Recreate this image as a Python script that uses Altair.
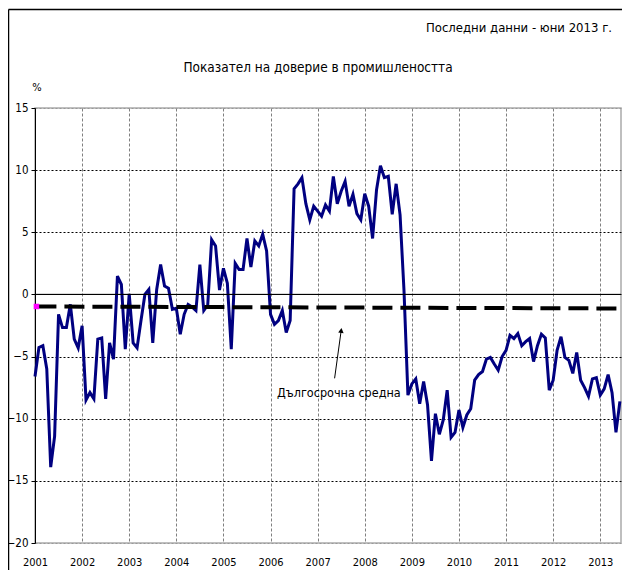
import altair as alt
import pandas as pd

# ---- data (monthly, Jan 2001 .. Jun 2013) ----
values = [
    -6.6, -4.27, -4.13, -6.0, -13.9, -11.4, -1.6, -2.67, -2.67, -0.8, -3.6, -4.3,      # 2001
    -2.53, -8.5, -7.9, -8.4, -3.6, -3.5, -8.4, -3.9, -5.2, 1.47, 0.8, -4.4,            # 2002
    0.05, -3.9, -4.3, -2.1, 0.0, 0.4, -3.9, 0.4, 2.4, 0.67, 0.5, -1.2,                 # 2003
    -1.1, -3.2, -1.6, -0.8, -1.0, -1.3, 2.4, -1.3, -0.85, 4.4, 3.9, 0.35,              # 2004
    2.1, 0.9, -4.4, 2.5, 2.0, 2.0, 4.5, 2.2, 4.3, 3.9, 4.85, 3.5,                      # 2005
    -1.6, -2.4, -2.1, -1.3, -3.07, -2.1, 8.5, 8.9, 9.4, 7.3, 6.0, 7.1,                 # 2006
    6.7, 6.3, 7.2, 6.7, 9.5, 7.3, 8.3, 9.1, 7.1, 8.05, 6.5, 6.0,                       # 2007
    8.1, 7.1, 4.5, 8.4, 10.35, 9.4, 9.5, 6.45, 8.9, 6.4, 0.3, -8.1,                    # 2008
    -7.2, -6.8, -8.8, -7.0, -8.9, -13.4, -9.6, -11.25, -10.1, -7.7, -11.5, -11.1,      # 2009
    -9.3, -10.7, -9.7, -9.2, -6.9, -6.45, -6.2, -5.2, -5.07, -5.6, -6.1, -5.0,         # 2010
    -4.5, -3.3, -3.55, -3.15, -4.13, -3.8, -3.55, -5.4, -4.13, -3.2, -3.5, -7.7,       # 2011
    -6.9, -4.5, -3.4, -5.07, -5.3, -6.35, -4.67, -6.9, -7.5, -8.2, -6.8, -6.7,         # 2012
    -8.1, -7.6, -6.45, -7.9, -11.1, -8.6,                                              # 2013
]
start_year = 2001
end_year = 2013.44
year_ticks = list(range(2001, 2014))
y_ticks = [15, 10, 5, 0, -5, -10, -15, -20]

avg_x = [2001.03, end_year]
avg_values = [-0.97, -1.13]

title_text = "Показател на доверие в промишлеността"
subtitle_text = "Последни данни - юни 2013 г."
unit_text = "%"
note_text = "Дългосрочна средна"
note_x, note_y = 2007.45, -7.9
arrow_from = (2007.36, -6.75)
arrow_to = (2007.50, -2.9)

FONT = "'DejaVu Sans Condensed', 'DejaVu Sans', sans-serif"

# ---- tables ----
df = pd.DataFrame({
    "t": [start_year + i / 12 for i in range(len(values))],
    "v": values,
})
df_avg = pd.DataFrame({"t": avg_x, "v": avg_values})
df_arrow = pd.DataFrame({"t": [arrow_from[0]], "v": [arrow_from[1]],
                         "t2": [arrow_to[0]], "v2": [arrow_to[1]]})
df_head = pd.DataFrame({"t": [arrow_to[0]], "v": [arrow_to[1]]})
df_note = pd.DataFrame({"t": [note_x], "v": [note_y], "label": [note_text]})

xscale = alt.Scale(domain=[2001, end_year], nice=False, zero=False)
yscale = alt.Scale(domain=[-20, 15], nice=False, zero=False)

x_axis = alt.Axis(
    values=year_ticks, format="d", title=None, grid=True,
    gridColor="#808080", gridDash=[3, 2], gridWidth=1,
    ticks=False, domain=False, labelFlush=False, labelPadding=13,
    labelFont=FONT, labelFontSize=11, labelColor="black",
)
y_axis = alt.Axis(
    values=y_ticks, title=None, grid=True,
    gridColor=alt.condition("datum.value == 15 || datum.value == -20",
                            alt.value("#999999"), alt.value("black")),
    gridDash=[2, 2], gridWidth=1,
    ticks=True, tickSize=4, tickColor="black", domain=True, domainColor="black",
    labelPadding=3, labelFont=FONT, labelFontSize=11.5, labelColor="black",
)

X = alt.X("t:Q", scale=xscale, axis=x_axis)
Y = alt.Y("v:Q", scale=yscale, axis=y_axis)
Xn = alt.X("t:Q", scale=xscale)
Yn = alt.Y("v:Q", scale=yscale)

base_line = alt.Chart(df).mark_line(color="#000080", strokeWidth=3).encode(x=X, y=Y)

zero_rule = alt.Chart(df_avg).mark_rule(color="black", strokeWidth=1).encode(
    y=alt.datum(0, scale=yscale))

avg_line = alt.Chart(df_avg).mark_line(
    color="black", strokeWidth=4, strokeDash=[20, 8]).encode(x=Xn, y=Yn)

avg_marker = alt.Chart(df_avg.head(1)).mark_square(
    color="#ff00ff", size=30, opacity=1).encode(x=Xn, y=Yn)

arrow = alt.Chart(df_arrow).mark_rule(color="black", strokeWidth=1).encode(
    x=Xn, y=Yn, x2="t2:Q", y2="v2:Q")
arrow_head = alt.Chart(df_head).mark_point(
    shape="triangle-up", filled=True, color="black", size=30, angle=7, opacity=1
).encode(x=Xn, y=Yn)

note = alt.Chart(df_note).mark_text(
    font=FONT, fontSize=12.5, color="black").encode(x=Xn, y=Yn, text="label:N")

title = alt.Chart(df_note).mark_text(
    font=FONT, fontSize=13.5, color="black", align="center", baseline="middle"
).encode(x=alt.value(283), y=alt.value(-40), text=alt.value(title_text))

subtitle = alt.Chart(df_note).mark_text(
    font=FONT, fontSize=13, color="black", align="right", baseline="middle"
).encode(x=alt.value(577), y=alt.value(-80), text=alt.value(subtitle_text))

unit = alt.Chart(df_note).mark_text(
    font=FONT, fontSize=11, color="black", align="center", baseline="middle"
).encode(x=alt.value(2), y=alt.value(-20), text=alt.value(unit_text))

frame_left = alt.Chart(df_note).mark_rule(color="black", strokeWidth=1.5).encode(
    x=alt.value(-26.5), y=alt.value(-98.5), y2=alt.value(470))
frame_top = alt.Chart(df_note).mark_rule(color="black", strokeWidth=1.5).encode(
    x=alt.value(-26.5), x2=alt.value(600), y=alt.value(-98.5))

chart = alt.layer(
    base_line, zero_rule, avg_line, avg_marker, arrow, arrow_head, note,
    title, subtitle, unit, frame_left, frame_top,
).properties(
    width=586, height=435,
    autosize=alt.AutoSizeParams(type="none"),
    padding={"left": 27, "top": 100, "right": 1, "bottom": 27},
    background="white",
).configure_view(stroke="#aaaaaa", strokeWidth=1.5)

chart.save("out.html", embed_options={"renderer": "svg", "actions": False})
